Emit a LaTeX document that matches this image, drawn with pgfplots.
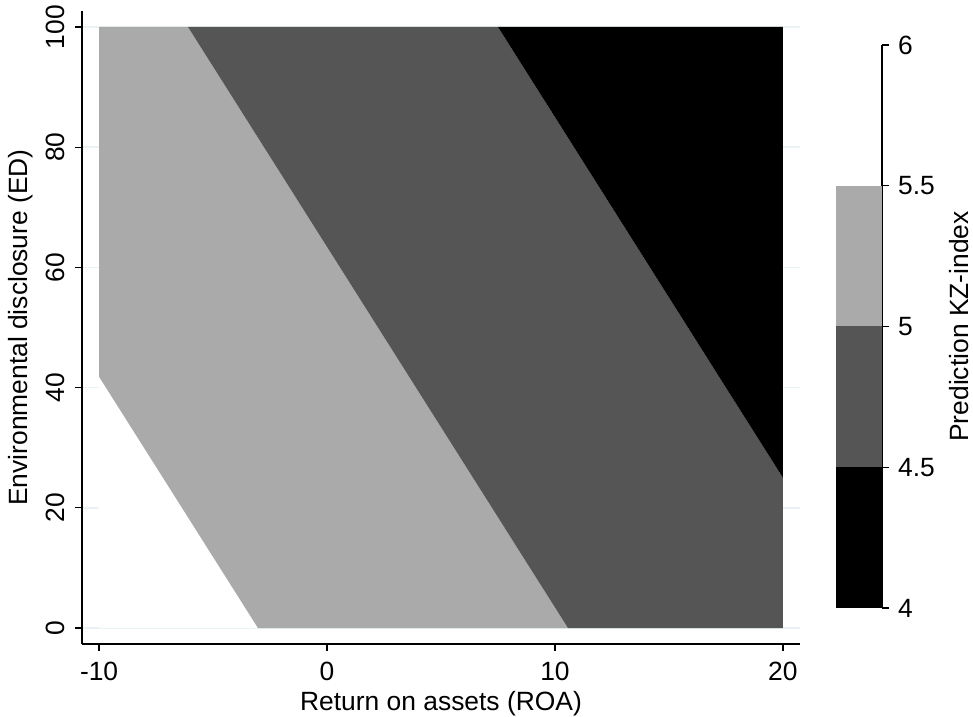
\documentclass[border=0pt]{standalone}
\usepackage{fontspec}
\setmainfont{Liberation Sans}
\usepackage{pgfplots}
\pgfplotsset{compat=1.18}
\definecolor{lightg}{HTML}{AAAAAA}
\definecolor{darkg}{HTML}{555555}
\definecolor{gridc}{HTML}{EAF2F3}
\begin{document}
\fontsize{26.4bp}{31bp}\selectfont
\begin{tikzpicture}
\path[use as bounding box] (0,0) rectangle (973bp,717bp);
\begin{axis}[
  at={(82bp,73bp)}, anchor=south west,
  scale only axis, width=718bp, height=633bp,
  xmin=-10.75, xmax=20.75, ymin=-2.66, ymax=102.66,
  axis x line*=bottom, axis y line*=left,
  axis line style={line width=1.3bp, -},
  xtick={-10,0,10,20}, xticklabels={-10,0,10,20},
  ytick={0,20,40,60,80,100}, yticklabels={0,20,40,60,80,100},
  tick align=outside, major tick length=7bp,
  tick style={line width=1.3bp, black},
  ymajorgrids, grid style={gridc, line width=1.5bp},
  xticklabel style={anchor=north, inner sep=0pt, yshift=-11bp},
  yticklabel style={xshift=-10bp, rotate=90, anchor=south, inner sep=0pt},
  xlabel={Return on assets (ROA)},
  ylabel={Environmental disclosure (ED)},
  xlabel style={at={(axis description cs:0.5,-0.1043)}, anchor=base, inner sep=0pt},
  ylabel style={at={(axis description cs:-0.0766,0.5)}, anchor=base, inner sep=0pt},
]
% white region (KZ 5.5-6)
\addplot[fill=white, draw=none] coordinates {(-10,0) (-3.03,0) (-10,41.8)} -- cycle;
% light gray region (KZ 5-5.5)
\addplot[fill=lightg, draw=none] coordinates {(-10,41.8) (-3.03,0) (10.57,0) (-6.10,100) (-10,100)} -- cycle;
% dark gray region (KZ 4.5-5)
\addplot[fill=darkg, draw=none] coordinates {(10.57,0) (20,0) (20,25.0) (7.5,100) (-6.10,100)} -- cycle;
% black region (KZ 4-4.5)
\addplot[fill=black, draw=none] coordinates {(20,25.0) (20,100) (7.5,100)} -- cycle;
\end{axis}
\begin{axis}[
  at={(836bp,109bp)}, anchor=south west,
  scale only axis, width=46bp, height=563bp,
  xmin=0, xmax=1, ymin=4, ymax=6,
  hide x axis,
  axis y line*=right,
  axis line style={line width=1.3bp, -},
  ytick={4,4.5,5,5.5,6}, yticklabels={4,4.5,5,5.5,6},
  tick align=outside, major tick length=7bp,
  tick style={line width=1.3bp, black},
  yticklabel style={anchor=west, inner sep=0pt, xshift=9bp},
  ylabel={Prediction KZ-index},
  ylabel style={at={(axis description cs:2.87,0.5)}, anchor=base, inner sep=0pt},
]
\addplot[fill=black, draw=none] coordinates {(0,4) (1,4) (1,4.5) (0,4.5)} -- cycle;
\addplot[fill=darkg, draw=none] coordinates {(0,4.5) (1,4.5) (1,5) (0,5)} -- cycle;
\addplot[fill=lightg, draw=none] coordinates {(0,5) (1,5) (1,5.5) (0,5.5)} -- cycle;
\end{axis}
\end{tikzpicture}
\end{document}
